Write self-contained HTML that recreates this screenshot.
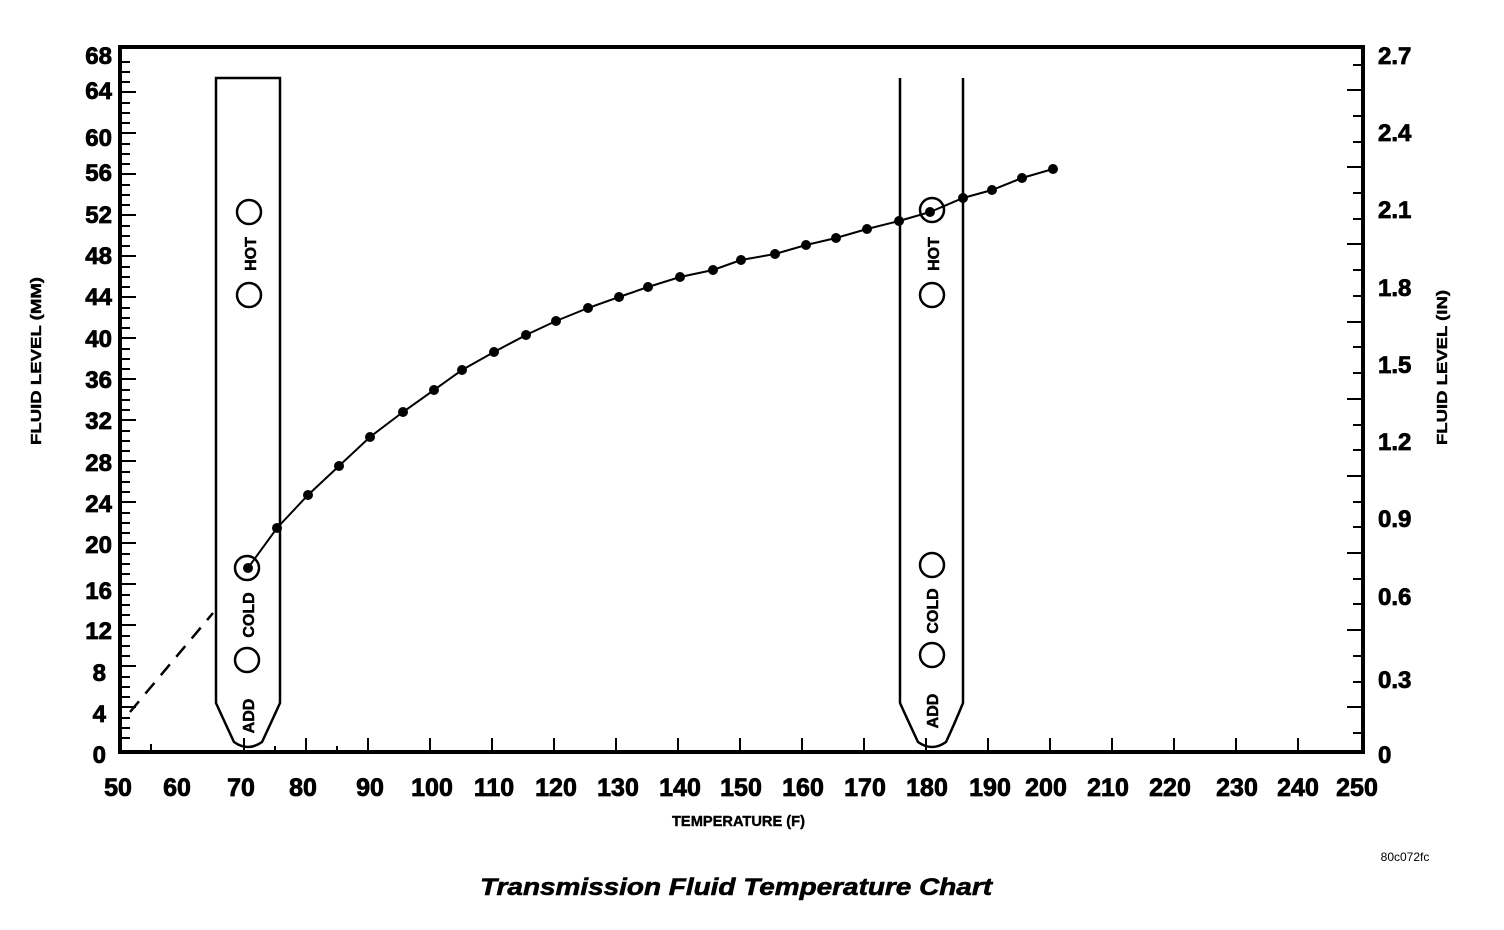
<!DOCTYPE html>
<html><head><style>body{margin:0;background:#fff}svg{display:block}</style></head><body>
<svg width="1504" height="930" viewBox="0 0 1504 930" xmlns="http://www.w3.org/2000/svg" font-family="Liberation Sans, Arial, sans-serif" font-weight="bold">
<path d="M120 47 H1363 V752 H120 Z" fill="none" stroke="#000" stroke-width="4"/>
<g stroke="#000" stroke-width="2">
<path d="M120 62h10M120 72h10M120 82h10M120 92h16M120 103h10M120 113h10M120 123h10M120 133h16M120 144h10M120 154h10M120 164h10M120 174h16M120 185h10M120 195h10M120 205h10M120 215h16M120 226h10M120 236h10M120 246h10M120 256h16M120 267h10M120 277h10M120 287h10M120 297h16M120 308h10M120 318h10M120 328h10M120 338h16M120 349h10M120 359h10M120 369h10M120 379h16M120 390h10M120 400h10M120 410h10M120 420h16M120 431h10M120 441h10M120 451h10M120 461h16M120 472h10M120 482h10M120 492h10M120 502h16M120 513h10M120 523h10M120 533h10M120 543h16M120 554h10M120 564h10M120 574h10M120 584h16M120 595h10M120 605h10M120 615h10M120 625h16M120 636h10M120 646h10M120 656h10M120 666h16M120 677h10M120 687h10M120 697h10M120 707h16M120 718h10M120 728h10M120 738h10"/>
<path d="M1363 65h-10M1363 90h-16M1363 116h-10M1363 142h-10M1363 167h-16M1363 193h-10M1363 219h-10M1363 244h-16M1363 270h-10M1363 296h-10M1363 322h-16M1363 347h-10M1363 373h-10M1363 399h-16M1363 425h-10M1363 450h-10M1363 476h-16M1363 502h-10M1363 527h-10M1363 553h-16M1363 579h-10M1363 604h-10M1363 630h-16M1363 656h-10M1363 682h-10M1363 707h-16M1363 733h-10"/>
<path d="M151 752v-8M244 752v-14M275 752v-6M306 752v-14M337 752v-6M368 752v-14M430 752v-14M492 752v-14M554 752v-14M616 752v-14M678 752v-14M740 752v-14M802 752v-14M864 752v-14M926 752v-14M988 752v-14M1050 752v-14M1112 752v-14M1174 752v-14M1236 752v-14M1298 752v-14"/>
</g>
<g font-size="24" text-anchor="end" stroke="#000" stroke-width="0.8">
<text x="112" y="64">68</text><text x="112" y="99">64</text><text x="112" y="146">60</text><text x="112" y="181">56</text><text x="112" y="223">52</text><text x="112" y="264">48</text><text x="112" y="305">44</text><text x="112" y="347">40</text><text x="112" y="388">36</text><text x="112" y="429">32</text><text x="112" y="471">28</text><text x="112" y="512">24</text><text x="112" y="553">20</text><text x="112" y="599">16</text><text x="112" y="639">12</text><text x="106" y="681">8</text><text x="106" y="722">4</text><text x="106" y="763">0</text>
</g>
<g font-size="24" stroke="#000" stroke-width="0.8">
<text x="1378" y="64">2.7</text><text x="1378" y="141">2.4</text><text x="1378" y="218">2.1</text><text x="1378" y="296">1.8</text><text x="1378" y="373">1.5</text><text x="1378" y="450">1.2</text><text x="1378" y="527">0.9</text><text x="1378" y="605">0.6</text><text x="1378" y="688">0.3</text><text x="1378" y="763">0</text>
</g>
<g font-size="25" text-anchor="middle" stroke="#000" stroke-width="0.8">
<text x="118" y="796">50</text><text x="177" y="796">60</text><text x="241" y="796">70</text><text x="303" y="796">80</text><text x="370" y="796">90</text><text x="432" y="796">100</text><text x="494" y="796">110</text><text x="556" y="796">120</text><text x="618" y="796">130</text><text x="680" y="796">140</text><text x="741" y="796">150</text><text x="803" y="796">160</text><text x="865" y="796">170</text><text x="927" y="796">180</text><text x="990" y="796">190</text><text x="1046" y="796">200</text><text x="1108" y="796">210</text><text x="1170" y="796">220</text><text x="1237" y="796">230</text><text x="1298" y="796">240</text><text x="1357" y="796">250</text>
</g>
<text x="672" y="826" font-size="15" textLength="133" lengthAdjust="spacingAndGlyphs" stroke="#000" stroke-width="0.4">TEMPERATURE (F)</text>
<text transform="translate(41 445) rotate(-90)" font-size="15" textLength="168" lengthAdjust="spacingAndGlyphs" stroke="#000" stroke-width="0.4">FLUID LEVEL (MM)</text>
<text transform="translate(1447 445) rotate(-90)" font-size="15" textLength="155" lengthAdjust="spacingAndGlyphs" stroke="#000" stroke-width="0.4">FLUID LEVEL (IN)</text>
<text x="1405" y="861" font-size="12" font-weight="normal" text-anchor="middle">80c072fc</text>
<text x="480" y="895" font-size="24" font-style="italic" textLength="512" lengthAdjust="spacingAndGlyphs" stroke="#000" stroke-width="0.6">Transmission Fluid Temperature Chart</text>
<g fill="none" stroke="#000" stroke-width="2.5">
<path d="M216 78 V703 Q226 725 234 742 Q248 752 262 742 Q270 725 280 703 V78 Z"/>
<path d="M900 78 V703 Q910 725 918 742 Q932 752 946 742 Q954 725 963 703 V78"/>
<circle cx="249" cy="212" r="12"/><circle cx="249" cy="295" r="12"/><circle cx="247" cy="568" r="12"/><circle cx="247" cy="660" r="12"/>
<circle cx="932" cy="210" r="12"/><circle cx="932" cy="295" r="12"/><circle cx="932" cy="565" r="12"/><circle cx="932" cy="655" r="12"/>
<path d="M130 712 L213 613" stroke-dasharray="14 10"/>
<polyline stroke-width="2" points="248,568 277,528 308,495 339,466 370,437 403,412 434,390 462,370 494,352 526,335 556,321 588,308 619,297 648,287 680,277 713,270 741,260 775,254 806,245 836,238 867,229 899,221 930,212 963,198 992,190 1022,178 1053,169"/>
</g>
<g fill="#000">
<circle cx="248" cy="568" r="5"/><circle cx="277" cy="528" r="5"/><circle cx="308" cy="495" r="5"/><circle cx="339" cy="466" r="5"/><circle cx="370" cy="437" r="5"/><circle cx="403" cy="412" r="5"/><circle cx="434" cy="390" r="5"/><circle cx="462" cy="370" r="5"/><circle cx="494" cy="352" r="5"/><circle cx="526" cy="335" r="5"/><circle cx="556" cy="321" r="5"/><circle cx="588" cy="308" r="5"/><circle cx="619" cy="297" r="5"/><circle cx="648" cy="287" r="5"/><circle cx="680" cy="277" r="5"/><circle cx="713" cy="270" r="5"/><circle cx="741" cy="260" r="5"/><circle cx="775" cy="254" r="5"/><circle cx="806" cy="245" r="5"/><circle cx="836" cy="238" r="5"/><circle cx="867" cy="229" r="5"/><circle cx="899" cy="221" r="5"/><circle cx="930" cy="212" r="5"/><circle cx="963" cy="198" r="5"/><circle cx="992" cy="190" r="5"/><circle cx="1022" cy="178" r="5"/><circle cx="1053" cy="169" r="5"/>
</g>
<g font-size="16" stroke="#000" stroke-width="0.5">
<text transform="translate(256 254) rotate(-90)" text-anchor="middle">HOT</text>
<text transform="translate(254 615) rotate(-90)" text-anchor="middle">COLD</text>
<text transform="translate(254 716) rotate(-90)" text-anchor="middle">ADD</text>
<text transform="translate(939 254) rotate(-90)" text-anchor="middle">HOT</text>
<text transform="translate(938 611) rotate(-90)" text-anchor="middle">COLD</text>
<text transform="translate(938 711) rotate(-90)" text-anchor="middle">ADD</text>
</g>
</svg>
</body></html>
